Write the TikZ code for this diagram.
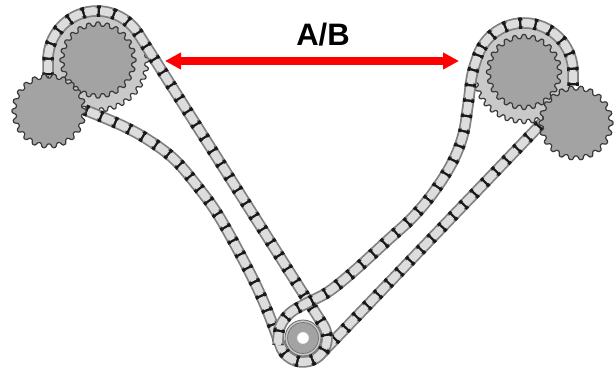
\documentclass[tikz,border=0pt]{standalone}
\usepackage{fontspec}
\setmainfont{Liberation Sans}
\usetikzlibrary{arrows.meta}
\definecolor{linklight}{HTML}{DDDDDD}
\definecolor{gearmid}{HTML}{A3A3A3}
\definecolor{gearpale}{HTML}{C9C9C9}
\definecolor{gearline}{HTML}{3A3A3A}
\tikzset{
  declare function={gt(\x)=1.69*cos(\x)-0.72*cos(\x)*cos(\x)*cos(\x);},
  chainedge/.style={line width=11.5pt,color=black!50},
  chainpin/.style={line width=11.5pt,color=black!90,dash pattern=on 3.5pt off 12pt},
  chainlinkwide/.style={line width=8pt,color=linklight,dash pattern=on 10.5pt off 5pt,dash phase=11.75pt},
  chainlinklong/.style={line width=5.5pt,color=linklight,dash pattern=on 13pt off 2.5pt,dash phase=12.5pt},
  gearedge/.style={draw=gearline,line width=1.2pt,line join=round},
  redarrow/.style={draw=red,line width=7.5pt,{Triangle[length=16pt,width=16pt]}-{Triangle[length=16pt,width=16pt]}},
  titletext/.style={font=\bfseries\fontsize{31}{31}\selectfont,text=black,inner sep=0pt}
}
\newcommand{\gearshape}[6]{% cx cy-up R amp teeth fill
  \filldraw[gearedge,fill=#6] plot[domain=0:360,samples=\numexpr #5*10+1\relax,variable=\t]
    ({#1+(#3+#4*gt(#5*\t))*cos(\t)},{#2+(#3+#4*gt(#5*\t))*sin(\t)}) -- cycle;
}
\newcommand{\chainrun}[1]{%
  \draw[chainedge] #1;
  \draw[chainpin] #1;
  \draw[chainlinkwide] #1;
  \draw[chainlinklong] #1;
}
\begin{document}
\begin{tikzpicture}[x=1pt,y=1pt]
\useasboundingbox (0,-371) rectangle (615,0);
\fill[white] (0,-371) rectangle (615,0);
% large rear gears
\gearshape{97}{-60}{50}{2}{36}{gearpale}
\gearshape{524}{-72}{49.5}{2}{36}{gearpale}
% sprocket
\filldraw[draw=black!60,line width=.8pt,fill=gearpale] (303,-338) circle[radius=18];
\filldraw[draw=black!55,line width=.7pt,fill=gearmid] (303,-338) circle[radius=15.5];
\filldraw[draw=black!35,line width=1.2pt,fill=white] (303,-338) circle[radius=6.5];
% chains
\chainrun{plot[smooth,tension=.6] coordinates {(85,-110) (123,-126) (150,-141) (175,-160) (198,-187) (220,-218) (250,-273) (267,-310) (279.8,-344.2)} arc[start angle=195,end angle=316,radius=24] -- (542,-123)}
\chainrun{(48,-76) -- (48,-60) arc[start angle=180,end angle=32,radius=49] -- (323.4,-325.3) arc[start angle=32,end angle=-60,radius=24]}
\chainrun{(573,-86) -- (573,-72) arc[start angle=0,end angle=158,radius=49] plot[smooth,tension=.6] coordinates {(478.6,-53.6) (472,-75) (468,-105) (463,-135) (452,-163) (433,-193) (412,-218) (388,-240) (353,-272) (328,-292) (307,-303) (290,-313) (280,-327) (278,-345)}}
% inner gears
\gearshape{98}{-60}{36}{2}{24}{gearmid}
\gearshape{524}{-72}{35.5}{2}{24}{gearmid}
% small gears
\gearshape{49}{-111}{35}{2}{22}{gearmid}
\gearshape{576}{-123}{35}{2}{22}{gearmid}
% dimension
\coordinate (arrowleft) at (165,-61);
\coordinate (arrowright) at (459,-61);
\draw[redarrow] (arrowleft) -- (arrowright);
\node[titletext] (title) at (323,-35) {A/B};
\end{tikzpicture}
\end{document}
